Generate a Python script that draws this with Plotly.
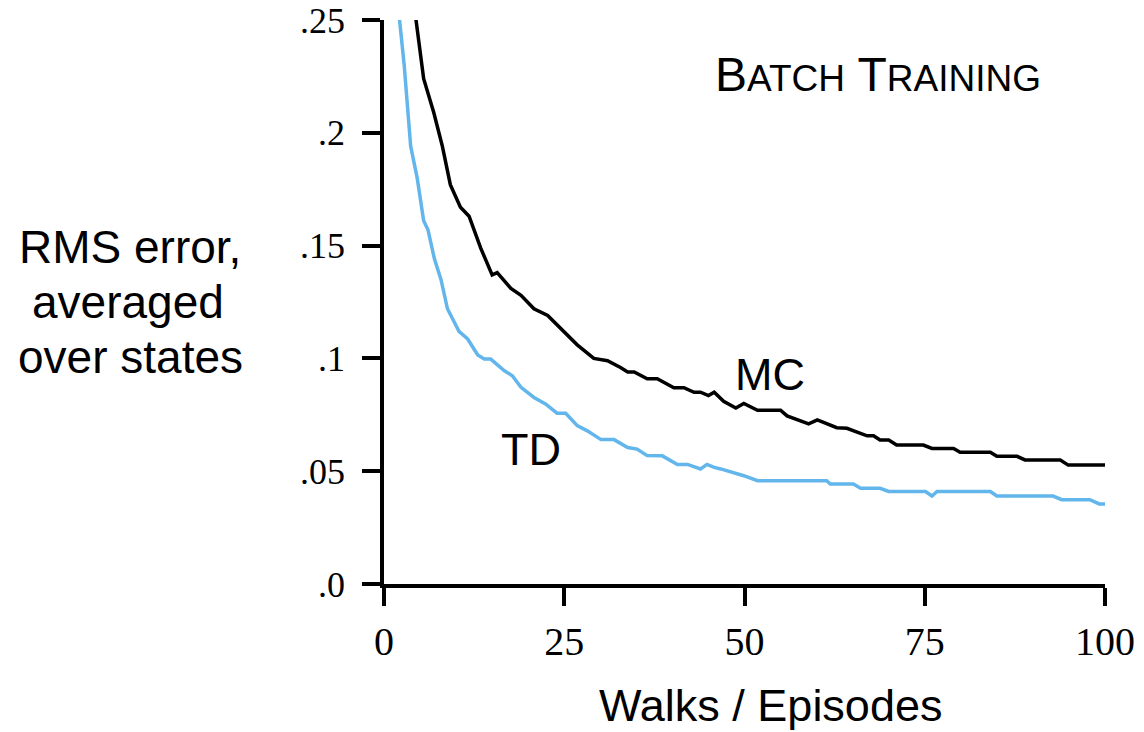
import plotly.graph_objects as go

# ---- data ----
mc_episodes = [4.2, 4.4, 5.5, 6.9, 8.1, 9.2, 10.6, 11.8, 13.4, 15.0, 15.7, 17.6, 19.0, 20.8, 22.7,
               25.0, 26.8, 29.1, 31.0, 32.8, 33.8, 34.7, 36.5, 37.9, 40.2, 41.6, 43.0, 43.9,
               45.0, 45.8, 47.1, 48.8, 49.9, 51.8, 55.0, 55.9, 58.9, 60.1, 62.8, 64.2, 65.8,
               67.0, 67.9, 68.8, 70.0, 71.1, 74.8, 76.0, 79.0, 79.9, 84.1, 85.0, 87.8, 88.9,
               93.8, 94.9, 100.0]
mc_rms = [0.258, 0.251, 0.224, 0.209, 0.194, 0.177, 0.167, 0.163, 0.149, 0.137, 0.138, 0.131,
          0.128, 0.122, 0.119, 0.112, 0.106, 0.100, 0.099, 0.096, 0.094, 0.094, 0.091, 0.091,
          0.087, 0.087, 0.085, 0.085, 0.0835, 0.085, 0.081, 0.078, 0.080, 0.077, 0.077,
          0.0745, 0.071, 0.0727, 0.0693, 0.069, 0.067, 0.0657, 0.0657, 0.0638, 0.0638,
          0.0616, 0.0616, 0.0601, 0.0601, 0.0584, 0.0584, 0.0566, 0.0566, 0.055, 0.055,
          0.0527, 0.0527]

td_episodes = [1.9, 2.1, 2.8, 3.7, 4.6, 5.5, 6.1, 7.0, 7.9, 8.8, 10.4, 11.6, 13.0, 13.9, 14.8,
               16.7, 17.8, 19.0, 20.8, 22.4, 24.0, 25.2, 26.8, 28.2, 30.1, 31.9, 33.8, 35.1,
               36.5, 38.6, 40.7, 42.1, 43.9, 44.8, 45.8, 46.7, 48.5, 49.9, 51.8, 61.4, 61.9,
               65.1, 66.1, 68.8, 70.0, 75.1, 76.0, 76.7, 84.1, 85.0, 92.8, 94.0, 97.9, 99.2,
               100.0]
td_rms = [0.258, 0.251, 0.230, 0.194, 0.180, 0.161, 0.157, 0.144, 0.135, 0.122, 0.112, 0.1086,
          0.1015, 0.0997, 0.0997, 0.0945, 0.0923, 0.0872, 0.0827, 0.0798, 0.0757, 0.0757,
          0.0702, 0.0679, 0.064, 0.064, 0.0605, 0.0598, 0.0569, 0.0568, 0.053, 0.053, 0.051,
          0.053, 0.0517, 0.051, 0.0495, 0.048, 0.0458, 0.0458, 0.0443, 0.0443, 0.0424,
          0.0424, 0.041, 0.041, 0.039, 0.041, 0.041, 0.039, 0.039, 0.0374, 0.0374, 0.0355,
          0.0355]

x_ticks = [0, 25, 50, 75, 100]
x_tick_labels = ["0", "25", "50", "75", "100"]
y_ticks = [0, 0.05, 0.10, 0.15, 0.20, 0.25]
y_tick_labels = [".0", ".05", ".1", ".15", ".2", ".25"]

L, R, T, B = 384, 39, 20, 148
W, H = 1144, 732
PW, PH = W - L - R, H - T - B


def px(xp):
    return (xp - L) / PW


def py(yp):
    return (H - B - yp) / PH


fig = go.Figure()
fig.add_trace(go.Scatter(x=mc_episodes, y=mc_rms, mode="lines",
                         line=dict(color="black", width=3.5), showlegend=False))
fig.add_trace(go.Scatter(x=td_episodes, y=td_rms, mode="lines",
                         line=dict(color="#62B6EC", width=3.5), showlegend=False))

sans = "Liberation Sans, Arial, sans-serif"
serif = "Liberation Serif, Times New Roman, serif"


def ann(text, x, y, size, ref="paper"):
    return dict(text=text, x=x, y=y, xref=ref, yref=ref, showarrow=False,
                xanchor="center", yanchor="middle",
                font=dict(family=sans, size=size, color="black"))


annotations = [
    ann("MC", px(770), py(374), 45),
    ann("TD", px(531), py(449), 45),
    ann("B<span style='font-size:37px'>ATCH</span> T<span style='font-size:37px'>RAINING</span>",
        px(878), py(75), 48),
    ann("RMS error,", px(130), py(247), 46),
    ann("averaged", px(128), py(302), 46),
    ann("over states", px(130), py(357), 46),
    ann("Walks / Episodes", px(770), py(705), 45),
]

fig.update_layout(
    width=W, height=H,
    margin=dict(l=L, r=R, t=T, b=B, pad=0),
    paper_bgcolor="white", plot_bgcolor="white",
    annotations=annotations,
    xaxis=dict(range=[0, 100], tickvals=x_ticks, ticktext=x_tick_labels,
               showgrid=False, zeroline=False, showline=True, linecolor="black",
               linewidth=3.5, ticks="outside", ticklen=18, tickwidth=3.5, tickcolor="black",
               tickfont=dict(family=serif, size=40, color="black"),
               ticklabelstandoff=1, ticklabeloverflow="allow",
               automargin=False, fixedrange=True),
    yaxis=dict(range=[0, 0.25], tickvals=y_ticks, ticktext=y_tick_labels,
               showgrid=False, zeroline=False, showline=True, linecolor="black",
               linewidth=3.5, ticks="outside", ticklen=18, tickwidth=3.5, tickcolor="black",
               tickfont=dict(family=serif, size=36, color="black"),
               ticklabelstandoff=10, ticklabeloverflow="allow",
               automargin=False, fixedrange=True),
)

fig.write_html("out.html", config={"displayModeBar": False})
